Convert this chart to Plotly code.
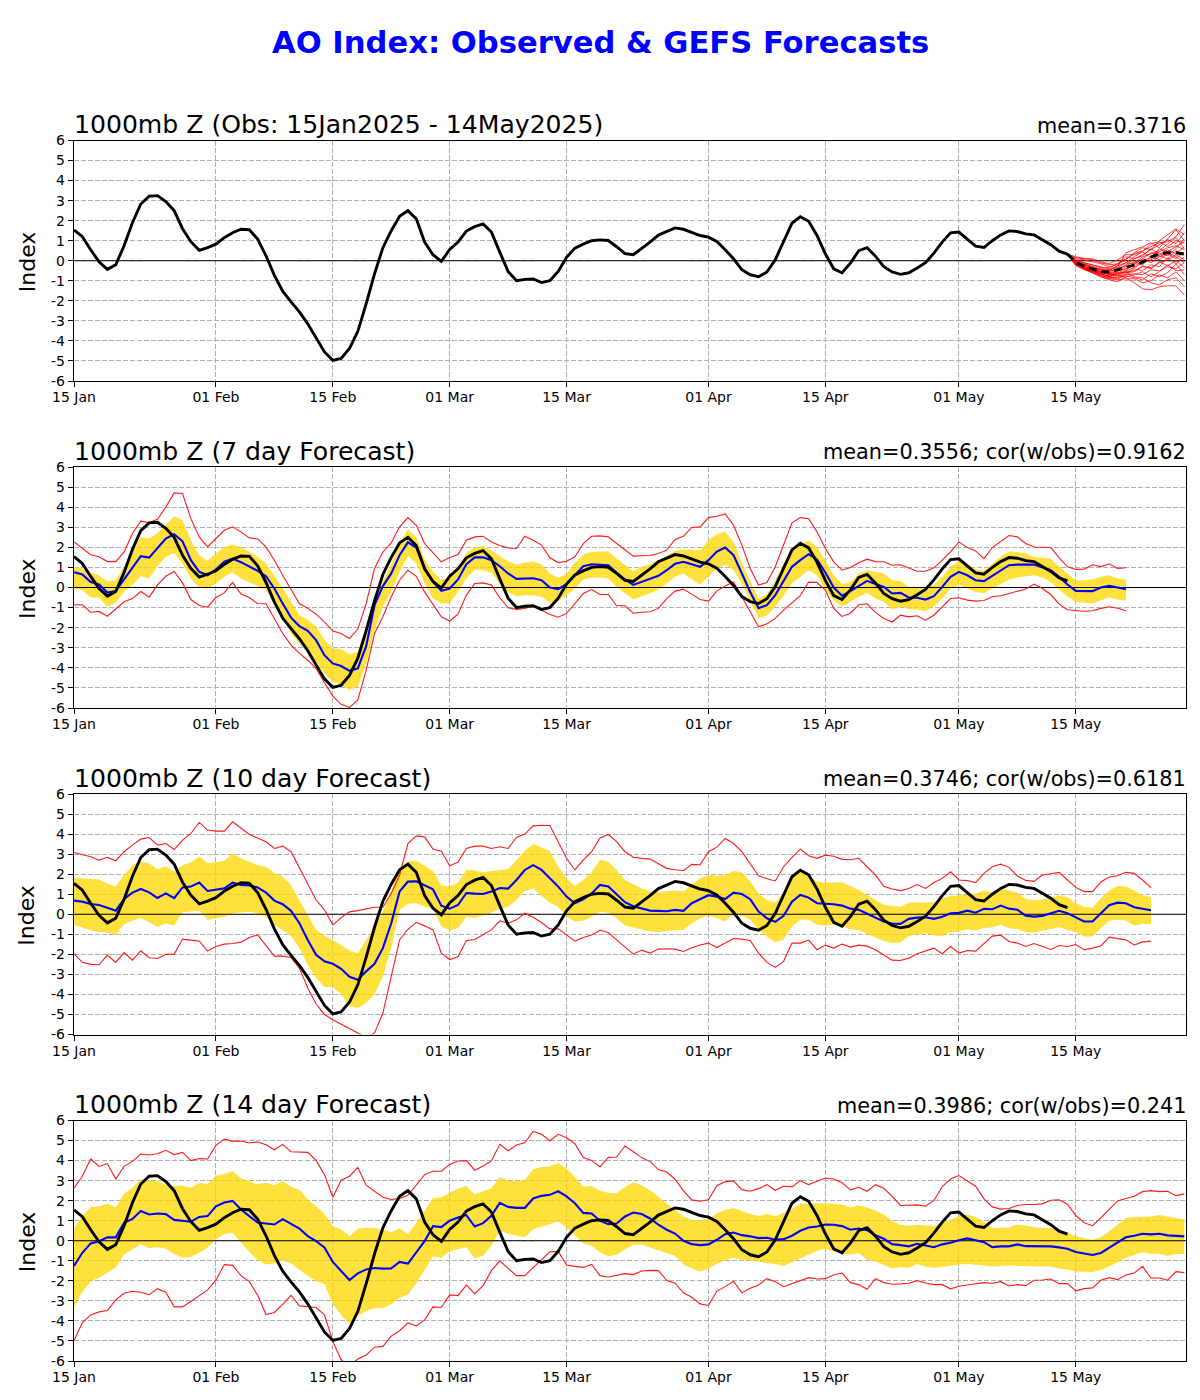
import pandas as pd
import plotly.graph_objects as go

OBS = [1.54,1.2,.55,-.05,-.43,-.2,.75,1.9,2.83,3.22,3.25,2.95,2.5,1.6,.95,.52,.66,.83,1.15,1.4,1.57,1.55,1.08,.25,-.73,-1.52,-2.05,-2.55,-3.15,-3.83,-4.55,-4.97,-4.87,-4.38,-3.52,-2.14,-.65,.65,1.5,2.22,2.5,2.09,.93,.3,-.03,.56,
.93,1.48,1.7,1.84,1.43,.43,-.53,-1.0,-.93,-.91,-1.09,-1.0,-.53,.17,.63,.83,1.0,1.04,1.01,.7,.36,.3,.6,.93,1.28,1.46,1.64,1.57,1.43,1.26,1.18,.96,.55,.1,-.45,-.7,-.8,-.56,.05,1.0,1.87,2.2,1.97,1.26,.35,
-.4,-.6,-.12,.5,.65,.23,-.3,-.56,-.68,-.6,-.36,-.1,.38,.93,1.39,1.43,1.08,.73,.66,1.0,1.29,1.49,1.46,1.34,1.29,1.06,.8,.48,.33]

GEFS_MEAN = [.33,-.07,-.28,-.4,-.55,-.56,-.46,-.33,-.22,-.07,.18,.35,.4,.4,.33]

MEMBERS = [
[.33,.15,.1,.05,-.1,-.2,-.15,.1,.35,.5,.7,.9,.95,1.2,1.8],
[.33,.1,.05,-.05,-.15,-.3,-.2,.05,.4,.65,.55,1.0,1.3,1.6,1.3],
[.33,.05,-.1,-.2,-.3,-.4,-.3,.4,.55,.7,.9,.65,1.1,1.55,1.0],
[.33,.2,.12,.1,-.05,-.15,.05,.3,.3,.45,.85,.95,.7,1.0,.9],
[.33,-.05,-.2,-.35,-.45,-.5,-.45,-.2,.1,.3,.55,.8,1.05,.85,1.4],
[.33,0,-.15,-.3,-.5,-.6,-.5,-.4,-.1,.2,.35,.5,.85,1.15,.6],
[.33,-.1,-.3,-.4,-.6,-.65,-.55,-.3,-.3,0,.15,.6,.45,.7,.95],
[.33,-.15,-.3,-.5,-.65,-.8,-.6,-.45,-.2,.1,.4,.3,.55,.35,.7],
[.33,-.1,-.25,-.45,-.55,-.7,-.7,-.5,-.35,-.1,.05,.25,.1,.5,.3],
[.33,-.2,-.35,-.5,-.6,-.55,-.4,-.25,-.05,-.2,.2,.05,.35,.1,.45],
[.33,-.05,-.2,-.35,-.4,-.45,-.35,-.1,-.15,.1,-.1,.2,.4,.2,-.1],
[.33,-.12,-.35,-.55,-.7,-.75,-.75,-.55,-.5,-.3,-.35,-.1,.05,.3,.05],
[.33,-.18,-.4,-.55,-.75,-.85,-.8,-.65,-.4,-.5,-.2,-.3,.15,-.15,.2],
[.33,-.08,-.28,-.4,-.5,-.65,-.6,-.6,-.55,-.25,-.4,-.05,-.25,0,-.35],
[.33,-.2,-.42,-.6,-.72,-.88,-.85,-.7,-.65,-.7,-.45,-.5,-.3,-.4,-.1],
[.33,-.22,-.45,-.58,-.8,-.95,-1.05,-.8,-.7,-.55,-.8,-.55,-.2,-.5,-.45],
[.33,-.15,-.38,-.52,-.68,-.8,-.9,-.75,-.85,-.95,-.65,-.8,-.6,-.15,-.7],
[.33,-.25,-.42,-.62,-.8,-.9,-.95,-.9,-.9,-1.1,-1.0,-.7,-.85,-.55,-1.0],
[.33,-.18,-.36,-.5,-.62,-.78,-.7,-.85,-1.1,-1.4,-1.45,-1.3,-1.25,-1.25,-1.7],
[.33,-.1,-.3,-.45,-.58,-.7,-.65,-.55,-.8,-.85,-1.1,-1.2,-.95,-.85,-1.3],
[.33,-.05,-.18,-.3,-.42,-.48,-.25,-.1,.2,.45,.15,.45,.65,.75,.55],
[.33,-.02,-.1,-.22,-.35,-.35,-.15,.2,.1,.25,.6,.35,.25,.6,1.1],
]

B7 = [.76,.65,.27,.15,-.25,-.18,.41,1.0,1.56,1.49,1.99,2.44,2.65,2.3,1.36,.78,.61,.9,1.29,1.44,1.26,1.06,.83,.56,-.05,-.8,-1.5,-1.92,-2.16,-2.62,-3.37,-3.78,-3.91,-4.15,-4.03,-2.92,-.88,.07,.7,1.61,2.25,1.99,.95,.28,-.17,-.05,
.4,1.16,1.5,1.5,1.36,1.06,.7,.43,.45,.46,.36,0,-.08,.17,.61,1.06,1.16,1.14,1.11,.73,.4,.13,.28,.43,.58,.86,1.18,1.28,1.16,1.03,1.36,1.79,1.99,1.61,.7,-.22,-1.03,-.88,-.38,.33,1.03,1.36,1.66,1.39,.75,
0,-.41,-.18,.08,.33,.17,.03,-.3,-.27,-.5,-.51,-.6,-.43,.03,.53,.78,.61,.36,.32,.58,.83,1.11,1.14,1.14,1.14,1.0,.86,.53,.15,-.17,-.18,-.18,0,.08,0,-.08]
G7H = [1.03,.95,.75,.6,.3,.36,1.03,1.85,2.5,2.45,2.7,3.15,3.55,3.35,2.35,1.6,1.33,1.7,2.0,2.14,2.0,1.77,1.53,1.2,.6,-.05,-.7,-1.38,-1.6,-1.96,-2.62,-3.03,-3.08,-3.32,-3.2,-1.96,-.7,.3,1.2,2.2,2.9,2.5,1.4,.8,.35,.53,
1.03,1.72,2.0,2.06,1.86,1.56,1.31,1.14,1.24,1.29,1.14,.7,.5,.66,1.23,1.64,1.77,1.79,1.79,1.44,1.11,.81,1.03,1.16,1.36,1.61,1.82,1.89,1.86,1.86,2.35,2.65,2.79,2.27,1.2,.28,-.55,-.33,.36,1.2,1.89,2.1,2.35,2.02,1.36,
.61,.17,.28,.7,.86,.78,.7,.36,.33,.03,.03,.03,.12,.53,1.03,1.31,1.16,.9,.83,1.2,1.53,1.79,1.77,1.69,1.53,1.48,1.43,1.03,.7,.36,.36,.4,.53,.61,.45,.41]
G7L = [-.05,-.13,-.5,-.5,-.96,-.76,-.2,.12,.56,.45,1.06,1.53,1.72,1.2,.45,0,-.05,.2,.53,.75,.45,.28,.07,-.13,-.8,-1.54,-2.29,-2.79,-3.2,-3.7,-4.28,-4.69,-4.86,-5.1,-4.94,-3.78,-2.12,-.96,-.2,.78,1.58,1.2,.2,-.55,-.8,-.8,
-.22,.45,.9,.86,.73,.17,-.22,-.43,-.38,-.38,-.46,-.76,-.7,-.38,-.05,.4,.5,.5,.45,.03,-.3,-.6,-.43,-.27,-.13,.2,.53,.7,.4,.15,.53,.95,1.14,.86,.2,-.63,-1.54,-1.38,-.96,-.38,.2,.53,.86,.61,-.1,
-.63,-.96,-.71,-.46,-.27,-.55,-.71,-1.09,-.96,-1.08,-1.09,-1.18,-.96,-.55,-.05,.12,-.05,-.22,-.27,-.05,.17,.4,.5,.56,.61,.5,.28,-.1,-.46,-.71,-.75,-.8,-.63,-.5,-.6,-.66]
R7H = [2.27,1.94,1.63,1.53,1.29,1.29,1.77,2.69,3.3,3.23,3.4,4.01,4.71,4.68,3.43,2.52,2.02,2.44,2.85,3.02,2.77,2.47,2.42,2.02,1.36,.61,-.13,-.8,-1.04,-1.33,-1.71,-2.17,-2.29,-2.54,-2.07,-.8,.95,1.77,2.22,3.02,3.48,3.1,2.19,1.72,1.28,1.49,
1.64,2.35,2.52,2.55,2.27,2.09,1.97,1.94,2.55,2.35,2.11,1.48,1.24,1.31,1.53,2.19,2.55,2.57,2.52,2.19,1.89,1.56,1.58,1.59,1.69,1.86,2.39,2.55,2.99,3.02,3.48,3.55,3.66,3.1,2.11,.95,.12,.25,1.03,2.11,3.22,3.48,3.42,2.77,1.94,
1.28,.86,1.0,1.23,1.41,1.29,1.28,1.11,1.13,.95,.81,.81,.98,1.36,1.77,2.27,1.99,1.82,1.44,1.99,2.27,2.59,2.52,2.19,2.02,1.99,1.99,1.49,1.03,.9,.91,1.13,1.04,1.18,.95,.98]
R7L = [-.86,-.86,-1.23,-1.19,-1.43,-1.09,-.71,-.55,-.2,-.48,.13,.56,.8,.23,-.6,-.9,-.98,-.5,-.27,.25,-.33,-.5,-.8,-.81,-1.54,-2.29,-2.87,-3.28,-3.62,-4.03,-4.74,-5.41,-5.82,-5.97,-5.6,-4.11,-2.29,-1.46,-.46,.36,.86,.56,-.22,-.83,-1.46,-1.67,
-1.33,-.38,.2,.23,.12,-.51,-1.01,-1.09,-1.04,-.91,-1.13,-1.34,-1.48,-1.29,-.8,-.3,-.1,-.35,-.35,-.91,-.91,-1.28,-1.23,-1.21,-1.04,-.55,-.18,-.08,-.33,-.6,-.68,-.18,.08,.27,-.46,-1.21,-1.96,-1.81,-1.54,-1.13,-.76,-.41,.27,.25,-.13,
-1.04,-1.44,-1.28,-.86,-.81,-1.24,-1.54,-1.72,-1.38,-1.46,-1.41,-1.63,-1.38,-.96,-.55,-.51,-.63,-.68,-.65,-.46,-.41,-.3,-.18,-.07,.17,-.05,-.35,-.83,-1.11,-1.13,-1.18,-1.16,-1.04,-.96,-1.03,-1.16]

B10 = [.68,.63,.51,.46,.33,.18,.76,1.08,1.26,1.09,.81,1.04,.8,1.34,1.38,1.58,1.16,1.23,1.29,1.58,1.46,1.44,1.34,1.08,.68,.5,.17,-.45,-1.28,-2.02,-2.35,-2.47,-2.72,-3.12,-3.27,-2.85,-2.47,-1.69,-.45,1.13,1.63,1.64,1.46,1.24,.43,.28,
.46,1.06,1.03,1.01,1.13,1.31,1.28,1.71,2.21,2.45,2.21,1.82,1.38,.88,.55,.75,1.04,1.46,1.39,1.0,.6,.4,.3,.18,.17,.15,.22,.17,.55,.75,.95,.88,.76,1.08,1.01,.75,.13,-.2,-.38,-.08,.63,.96,.83,.55,.53,
.5,.43,.28,.22,.02,-.15,-.36,-.46,-.48,-.23,-.17,-.15,-.23,-.12,.05,.07,.18,.08,.27,.25,.43,.28,.23,-.07,-.12,-.08,.05,.17,.05,-.17,-.36,-.36,.02,.45,.58,.55,.35,.28,.2]
G10H = [1.82,1.79,1.74,1.74,1.54,1.38,1.96,2.45,2.62,2.54,2.24,2.4,2.12,2.45,2.59,2.89,2.55,2.59,2.67,3.03,2.79,2.62,2.45,2.37,2.06,1.87,1.46,.71,-.03,-.78,-1.06,-1.28,-1.53,-1.81,-1.94,-1.28,-.66,.13,1.13,2.29,2.65,2.67,2.4,2.17,1.43,1.38,
1.59,2.21,2.19,2.09,2.16,2.21,2.24,2.7,3.17,3.5,3.33,3.15,2.37,1.79,1.41,1.71,2.09,2.72,2.62,2.21,1.71,1.49,1.29,1.13,1.09,1.16,1.18,1.13,1.49,1.79,1.96,1.92,1.96,2.16,2.09,1.63,1.04,.71,.6,1.04,1.79,2.24,1.92,1.63,1.58,
1.58,1.58,1.41,1.21,.96,.71,.46,.43,.38,.58,.58,.61,.6,.8,.91,.95,1.0,1.04,1.18,1.09,1.29,1.19,1.09,.76,.7,.73,.83,.95,.85,.56,.36,.33,.8,1.18,1.41,1.38,1.18,.95,.86]
G10L = [-.53,-.66,-.8,-.88,-.91,-1.03,-.5,-.33,-.18,-.4,-.63,-.45,-.56,.1,.13,.18,-.28,-.2,-.13,.05,.07,.12,.05,-.15,-.53,-.78,-1.08,-1.69,-2.52,-3.18,-3.63,-3.63,-4.01,-4.59,-4.68,-4.43,-4.01,-3.1,-1.69,.22,.53,.55,.38,.27,-.61,-.81,
-.7,-.12,-.17,-.08,.08,.27,.38,.71,1.16,1.29,.91,.58,.38,-.12,-.36,-.33,-.12,.13,.08,-.2,-.56,-.66,-.75,-.86,-.88,-.83,-.8,-.78,-.46,-.2,-.07,-.2,-.36,.05,-.07,-.28,-.78,-1.11,-1.41,-1.26,-.61,-.28,-.28,-.53,-.56,
-.53,-.6,-.75,-.78,-.98,-1.16,-1.33,-1.43,-1.41,-1.08,-1.0,-.95,-1.06,-1.08,-.9,-.86,-.75,-.81,-.68,-.66,-.53,-.7,-.73,-.9,-.91,-.81,-.73,-.65,-.76,-.9,-1.11,-1.11,-.7,-.33,-.27,-.31,-.58,-.48,-.51]
R10H = [3.08,2.98,2.87,2.7,2.84,2.67,3.12,3.45,3.75,3.83,3.45,3.53,3.23,3.7,4.03,4.58,4.2,4.15,4.15,4.61,4.28,3.98,3.8,3.62,3.28,3.4,3.12,2.29,1.54,.71,.22,-.53,-.17,.12,.18,.27,.35,.35,1.04,1.96,3.53,3.91,3.86,3.25,3.15,2.42,
2.6,3.28,3.4,3.4,3.28,3.37,3.28,3.83,4.0,4.41,4.44,4.43,3.62,2.79,2.21,2.7,3.12,3.81,3.98,3.62,3.12,2.84,2.79,2.75,2.52,2.29,2.22,2.17,2.49,2.47,3.12,3.35,3.78,3.53,3.12,2.5,1.92,1.77,1.66,2.37,2.84,3.25,2.92,2.79,2.95,
2.89,2.74,2.72,2.79,2.37,1.96,1.39,1.26,1.18,1.28,1.48,1.29,1.58,1.79,2.12,1.71,1.68,1.58,2.04,2.37,2.5,2.34,1.91,1.69,1.64,1.96,2.02,2.09,1.71,1.34,1.13,1.13,1.61,1.86,1.92,2.09,2.04,1.71,1.33]
R10L = [-1.97,-2.4,-2.5,-2.52,-2.04,-2.4,-1.91,-2.29,-1.82,-2.17,-2.21,-2.0,-1.99,-1.24,-1.29,-1.33,-1.84,-1.61,-1.49,-1.46,-1.39,-1.16,-1.03,-1.58,-2.09,-2.09,-2.16,-2.69,-3.68,-4.48,-5.0,-5.26,-5.47,-5.67,-5.92,-6.17,-5.92,-4.93,-3.18,-1.28,-.75,-.4,-.58,-.78,-1.94,-2.26,
-2.11,-1.31,-1.26,-1.01,-.78,-.33,-.45,-.28,.05,-.15,-.41,-.73,-.73,-1.03,-1.34,-1.16,-1.04,-.8,-.91,-1.28,-1.66,-1.99,-1.79,-1.94,-1.74,-1.72,-1.74,-1.86,-1.67,-1.53,-1.44,-1.66,-1.44,-1.21,-1.24,-1.31,-1.94,-2.4,-2.65,-2.35,-1.44,-1.44,-1.29,-1.77,-1.54,
-1.69,-1.49,-1.64,-1.54,-1.59,-1.77,-2.02,-2.29,-2.31,-2.19,-1.97,-1.82,-1.69,-1.97,-1.61,-1.94,-1.81,-1.84,-1.44,-1.09,-1.04,-1.36,-1.44,-1.61,-1.46,-1.63,-1.76,-1.56,-1.61,-1.51,-1.77,-1.69,-1.58,-1.14,-1.21,-1.28,-1.53,-1.38,-1.34]

B14 = [-1.26,-.6,-.13,-.02,.17,.17,.9,1.09,1.48,1.31,1.36,1.33,1.04,.98,.95,1.19,1.23,1.72,1.91,1.99,1.56,1.23,.91,.86,.81,1.08,.85,.61,.23,-.02,-.33,-1.06,-1.51,-1.96,-1.63,-1.43,-1.36,-1.39,-1.38,-1.06,-1.14,-.6,-.02,.73,.68,1.0,
1.16,1.28,.71,.88,1.24,1.89,1.69,1.64,1.64,2.11,2.24,2.29,2.47,2.21,1.87,1.39,1.36,1.0,.83,.86,1.21,1.41,1.33,1.11,.8,.55,.36,0,-.17,-.22,-.18,.05,.33,.41,.28,.22,.13,.15,.05,.08,.25,.5,.66,.71,.81,
.8,.73,.55,.61,.53,.27,.1,-.17,-.22,-.28,-.15,-.23,-.32,-.18,-.1,.03,.12,.03,-.07,-.32,-.28,-.28,-.18,-.27,-.27,-.28,-.28,-.33,-.4,-.56,-.65,-.71,-.61,-.36,-.1,.17,.25,.35,.32,.35,.27,.25,.22]
G14H = [.65,1.23,1.69,1.72,1.86,1.66,2.35,2.65,3.08,2.98,2.98,2.8,2.74,2.75,2.65,2.89,2.82,3.25,3.33,3.48,3.12,2.97,2.82,2.89,2.77,2.98,2.69,2.55,2.06,1.72,1.34,.73,.56,.23,.61,.65,.63,.56,.43,.61,.33,.9,1.48,2.14,2.16,2.4,
2.6,2.74,2.31,2.47,2.62,3.18,3.0,2.98,3.03,3.57,3.68,3.7,3.88,3.6,3.18,2.7,2.75,2.49,2.4,2.37,2.7,2.92,2.77,2.52,2.19,1.84,1.51,1.21,1.04,1.04,1.08,1.38,1.54,1.63,1.49,1.34,1.24,1.34,1.24,1.38,1.58,1.84,1.84,1.87,1.87,
1.84,1.81,1.66,1.77,1.66,1.51,1.31,.98,.78,.75,.8,.78,.73,.9,1.04,1.23,1.31,1.19,.95,.63,.65,.66,.81,.73,.68,.63,.63,.56,.43,.23,.12,.05,.17,.48,.81,1.14,1.19,1.19,1.21,1.29,1.23,1.14,1.06]
G14L = [-3.33,-2.55,-2.02,-1.84,-1.59,-1.34,-.68,-.43,-.18,-.38,-.33,-.4,-.66,-.85,-.81,-.6,-.35,.07,.32,.4,-.1,-.56,-.96,-1.18,-1.13,-.96,-1.13,-1.46,-1.76,-2.01,-2.17,-3.17,-3.7,-4.16,-3.75,-3.5,-3.37,-3.35,-3.17,-2.84,-2.69,-2.12,-1.43,-.78,-.85,-.53,
-.41,-.32,-.88,-.75,-.25,.5,.35,.25,.18,.58,.71,.83,.96,.66,.28,-.13,-.25,-.58,-.78,-.7,-.43,-.2,-.2,-.33,-.45,-.61,-.75,-1.18,-1.38,-1.54,-1.41,-1.16,-.96,-.85,-.95,-.98,-1.04,-1.11,-1.16,-1.26,-1.08,-.88,-.68,-.5,-.4,
-.55,-.65,-.68,-.61,-.93,-1.04,-1.23,-1.38,-1.31,-1.36,-1.16,-1.29,-1.36,-1.29,-1.23,-1.18,-1.16,-1.19,-1.23,-1.29,-1.26,-1.23,-1.26,-1.26,-1.26,-1.28,-1.29,-1.39,-1.43,-1.53,-1.53,-1.56,-1.46,-1.29,-1.09,-.85,-.71,-.56,-.66,-.65,-.76,-.66,-.66]
R14H = [2.64,3.22,4.08,3.71,3.85,3.08,3.71,3.96,4.33,4.28,4.34,4.51,4.3,4.41,4.0,4.1,4.08,4.76,5.07,4.96,4.98,4.88,4.93,4.79,4.54,4.81,4.44,4.43,4.41,4.01,3.3,2.17,3.02,3.22,3.66,2.77,2.47,2.17,2.06,2.11,2.27,2.8,3.3,3.47,3.47,3.81,
3.98,4.0,3.52,3.73,3.98,4.81,4.49,4.78,4.89,5.46,5.31,4.99,5.31,5.14,4.84,4.15,4.01,3.68,4.16,4.18,4.73,4.44,4.15,3.95,3.55,3.43,3.07,2.49,2.04,1.97,2.04,2.75,2.95,2.99,2.55,2.47,2.6,2.8,2.52,2.72,2.69,3.0,2.8,2.97,3.13,
3.08,2.89,2.54,2.67,2.47,2.8,2.62,2.22,1.76,1.76,1.79,1.72,2.01,2.7,3.08,3.25,2.98,2.72,2.09,1.69,1.58,1.61,1.76,1.81,1.81,1.84,2.02,2.04,1.82,1.26,.9,.75,1.14,1.56,1.99,2.11,2.22,2.45,2.5,2.45,2.47,2.25,2.34]
R14L = [-4.99,-4.08,-3.7,-3.55,-3.48,-2.95,-2.62,-2.52,-2.57,-2.69,-2.39,-2.57,-3.3,-3.3,-3.03,-2.75,-2.45,-1.97,-1.19,-1.23,-1.74,-2.04,-2.72,-3.68,-3.58,-3.17,-2.72,-3.25,-3.28,-3.33,-3.7,-5.02,-5.94,-6.24,-5.9,-5.7,-5.31,-5.27,-4.76,-4.49,-4.1,-4.25,-3.95,-3.3,-3.33,-2.7,
-2.74,-2.21,-2.64,-2.24,-1.49,-1.0,-1.38,-1.74,-1.74,-1.33,-.91,-.55,-.53,-1.21,-1.28,-1.33,-1.18,-1.74,-1.81,-1.74,-1.64,-1.69,-1.51,-1.48,-1.49,-1.99,-2.12,-2.6,-2.82,-3.15,-3.23,-2.51,-2.29,-2.02,-2.6,-2.37,-2.21,-1.89,-2.04,-2.29,-2.14,-1.97,-1.84,-1.91,-1.89,
-1.71,-1.61,-2.09,-2.19,-2.42,-1.89,-2.09,-2.17,-2.15,-2.12,-1.99,-2.11,-2.19,-2.19,-2.4,-2.27,-2.21,-2.14,-2.09,-2.12,-2.04,-2.26,-2.19,-2.24,-1.97,-1.96,-1.91,-2.14,-2.14,-2.5,-2.39,-2.35,-1.97,-1.84,-1.94,-1.71,-1.61,-1.28,-1.86,-1.86,-1.97,-1.54,-1.59]

TICK_DATES = ["2025-01-15","2025-02-01","2025-02-15","2025-03-01","2025-03-15","2025-04-01","2025-04-15","2025-05-01","2025-05-15"]
TICK_TEXT = ["15 Jan","01 Feb","15 Feb","01 Mar","15 Mar","01 Apr","15 Apr","01 May","15 May"]
Y_TICKS = [-6,-5,-4,-3,-2,-1,0,1,2,3,4,5,6]
LEFT_TITLES = ["1000mb Z (Obs: 15Jan2025 - 14May2025)","1000mb Z (7 day Forecast)","1000mb Z (10 day Forecast)","1000mb Z (14 day Forecast)"]
RIGHT_TITLES = ["mean=0.3716","mean=0.3556; cor(w/obs)=0.9162","mean=0.3746; cor(w/obs)=0.6181","mean=0.3986; cor(w/obs)=0.241"]

START = pd.Timestamp("2025-01-15")
def dates(n, first=0):
    return [START + pd.Timedelta(days=first + i) for i in range(n)]

W, H = 1200, 1400
RANGE_X = [START, START + pd.Timedelta(days=133.2)]
ROWS = [(140.5, 381), (467, 708), (794, 1034.5), (1120.5, 1361)]
FONT = "DejaVu Sans"

fig = go.Figure()

def line(row, y, color, width, first=0, dash=None, opacity=None):
    fig.add_trace(go.Scatter(x=dates(len(y), first), y=y, mode="lines", xaxis=f"x{row}", yaxis=f"y{row}",
                             line=dict(color=color, width=width, dash=dash), opacity=opacity, showlegend=False, hoverinfo="skip"))

def zero(row):
    fig.add_trace(go.Scatter(x=RANGE_X, y=[0, 0], mode="lines", xaxis=f"x{row}", yaxis=f"y{row}",
                             line=dict(color="black", width=1), showlegend=False, hoverinfo="skip"))

def forecast_panel(row, blue, gh, gl, rh, rl):
    d = dates(len(gl))
    fig.add_trace(go.Scatter(x=d, y=gl, mode="lines", line=dict(width=0), xaxis=f"x{row}", yaxis=f"y{row}", showlegend=False, hoverinfo="skip"))
    fig.add_trace(go.Scatter(x=d, y=gh, mode="lines", line=dict(width=0), fill="tonexty", fillcolor="rgba(255,215,0,0.76)",
                             xaxis=f"x{row}", yaxis=f"y{row}", showlegend=False, hoverinfo="skip"))
    zero(row)
    line(row, rh, "#ff1a1a", 1.1)
    line(row, rl, "#ff1a1a", 1.1)
    line(row, blue, "#0000ff", 2.1)
    line(row, OBS, "black", 2.9)

zero(1)
for m in MEMBERS:
    line(1, m, "red", 1, first=119, opacity=0.75)
line(1, OBS, "black", 2.9)
line(1, GEFS_MEAN, "black", 3, first=119, dash="8px,5px")
forecast_panel(2, B7, G7H, G7L, R7H, R7L)
forecast_panel(3, B10, G10H, G10L, R10H, R10L)
forecast_panel(4, B14, G14H, G14L, R14H, R14L)

layout = dict(
    width=W, height=H, autosize=False, margin=dict(l=0, r=0, t=0, b=0, pad=0),
    paper_bgcolor="white", plot_bgcolor="white", showlegend=False,
    font=dict(family=FONT, color="black", size=14),
)
ann = [dict(text="<b>AO Index: Observed &amp; GEFS Forecasts</b>", x=0.5, y=1 - 42 / H, xref="paper", yref="paper",
            xanchor="center", yanchor="middle", showarrow=False, font=dict(size=30.6, color="blue", family=FONT))]
for i, (top, bot) in enumerate(ROWS, start=1):
    s = "" if i == 1 else str(i)
    common = dict(ticks="outside", ticklen=5, tickwidth=1, tickcolor="black", automargin=False,
                  showgrid=True, gridcolor="#b0b0b0", griddash="5px,2px", gridwidth=1, zeroline=False,
                  showline=True, mirror=True, linecolor="black", linewidth=1.4, tickfont=dict(size=14, family=FONT))
    layout[f"xaxis{s}"] = dict(domain=[74 / W, 1186 / W], range=RANGE_X, type="date", anchor=f"y{s}" if i > 1 else "y",
                               tickvals=TICK_DATES, ticktext=TICK_TEXT, ticklabelstandoff=-2, **common)
    layout[f"yaxis{s}"] = dict(domain=[1 - bot / H, 1 - top / H], range=[-6, 6], anchor=f"x{s}" if i > 1 else "x",
                               tickvals=Y_TICKS, ticktext=[str(v) for v in Y_TICKS], **common)
    ann.append(dict(text=LEFT_TITLES[i - 1], x=74 / W, y=1 - top / H, xref="paper", yref="paper", xanchor="left", yanchor="bottom",
                    showarrow=False, font=dict(size=25.1, family=FONT), xshift=-2, yshift=-0.5))
    ann.append(dict(text=RIGHT_TITLES[i - 1], x=1186 / W, y=1 - (top - 1) / H, xref="paper", yref="paper", xanchor="right", yanchor="bottom",
                    showarrow=False, font=dict(size=20.8, family=FONT), xshift=2))
    ann.append(dict(text="Index", x=27 / W, y=1 - ((top + bot) / 2 + 1.5) / H, xref="paper", yref="paper", xanchor="center", yanchor="middle",
                    textangle=-90, showarrow=False, font=dict(size=22, family=FONT)))
layout["annotations"] = ann
fig.update_layout(**layout)
fig.write_html("out.html", post_script="document.body.style.margin='0';", config={"displayModeBar": False})
